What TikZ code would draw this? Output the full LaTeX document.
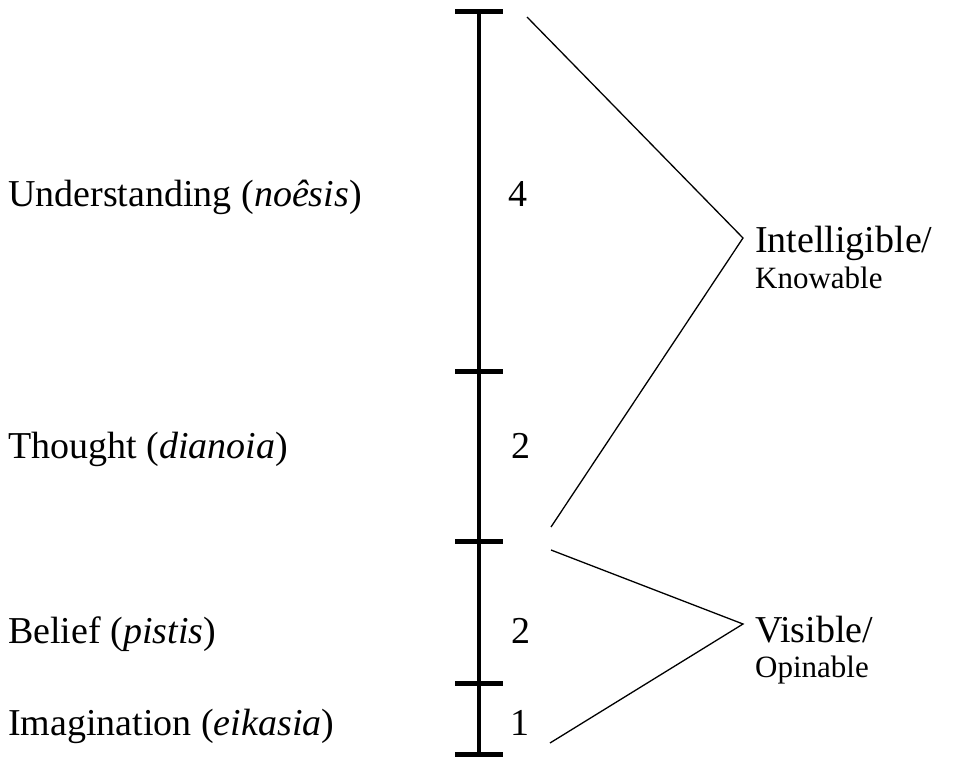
\documentclass[tikz,border=0pt]{standalone}
\usepackage{fontspec}
\setmainfont{Liberation Serif}
\begin{document}
\begin{tikzpicture}[x=1pt,y=-1pt,
  lbl/.style={anchor=base west,inner sep=0pt,font=\fontsize{38}{45}\selectfont},
  sublbl/.style={anchor=base west,inner sep=0pt,font=\fontsize{31}{37}\selectfont},
  tick/.style={line width=5pt},
  axis/.style={line width=3.2pt},
  thin/.style={line width=1.3pt}]
\useasboundingbox (0,0) rectangle (962,757);
% axis
\coordinate (top) at (479,12);
\coordinate (bot) at (479,754);
\draw[axis] (top) -- (bot);
\foreach \y/\n in {12/t0,371/t1,541/t2,683/t3,754/t4}{
  \coordinate (\n) at (479,\y);
  \draw[tick] (455,\y) -- (503,\y);
}
% left labels
\node[lbl] (u) at (8,207) {Understanding (\textit{noêsis})};
\node[lbl] (th) at (8,458) {Thought (\textit{dianoia})};
\node[lbl] (be) at (8,643) {Belief (\textit{pistis})};
\node[lbl] (im) at (8,735) {Imagination (\textit{eikasia})};
% numbers
\node[lbl] (n4) at (508,207) {4};
\node[lbl] (n2a) at (511,458) {2};
\node[lbl] (n2b) at (511,643) {2};
\node[lbl] (n1) at (510,735) {1};
% brackets
\coordinate (a1) at (527,17);
\coordinate (a2) at (743,238);
\coordinate (a3) at (551,527);
\coordinate (b1) at (551,550);
\coordinate (b2) at (743,624);
\coordinate (b3) at (550,743);
\draw[thin] (a1) -- (a2) -- (a3);
\draw[thin] (b1) -- (b2) -- (b3);
% right labels
\node[lbl] (int) at (755,252) {Intelligible/};
\node[sublbl] (kn) at (755,288) {Knowable};
\node[lbl] (vis) at (755,642) {Visible/};
\node[sublbl] (op) at (755,677) {Opinable};
\end{tikzpicture}
\end{document}
